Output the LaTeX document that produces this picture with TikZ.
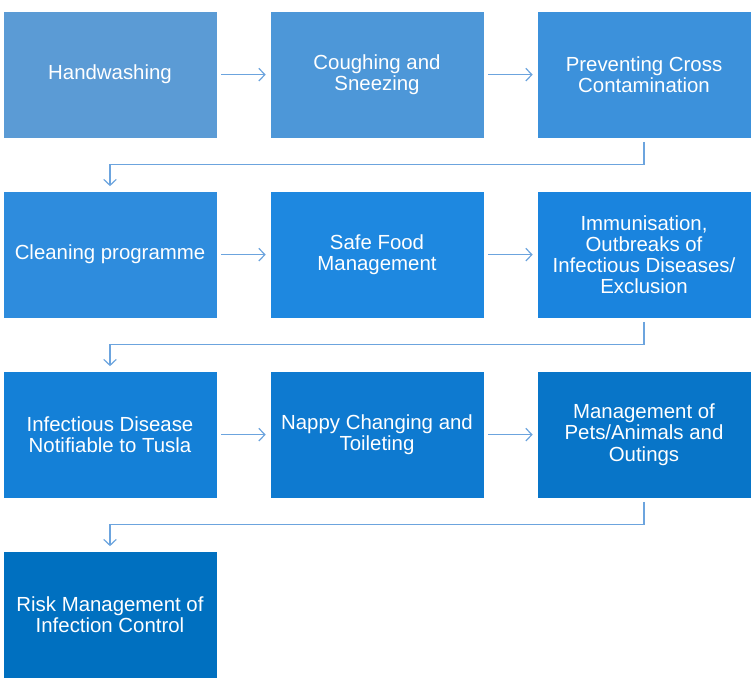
\documentclass[tikz,border=0pt]{standalone}
\usepackage{fontspec}
\setmainfont{Liberation Sans}
\usetikzlibrary{arrows.meta}
\definecolor{box1}{RGB}{91,155,213}
\definecolor{box2}{RGB}{77,151,216}
\definecolor{box3}{RGB}{60,145,219}
\definecolor{box4}{RGB}{46,140,221}
\definecolor{box5}{RGB}{30,136,224}
\definecolor{box6}{RGB}{26,132,222}
\definecolor{box7}{RGB}{20,128,215}
\definecolor{box8}{RGB}{14,122,208}
\definecolor{box9}{RGB}{8,117,200}
\definecolor{box10}{RGB}{0,112,192}
\definecolor{linkblue}{RGB}{108,164,222}
\begin{document}
\begin{tikzpicture}[
  block/.style={rectangle, draw=white, line width=0.5pt, text=white, align=center,
    minimum width=160.5pt, minimum height=95.25pt, inner sep=2pt,
    font=\fontsize{15.3}{15.8}\selectfont},
  link/.style={->, draw=linkblue, line width=0.9pt},
  >={Straight Barb[length=4.5pt, width=9.5pt]},
  node distance=200.25pt
]
\useasboundingbox (0,0) rectangle (566.25pt,-516pt);

\node[block, fill=box1] (hand) at (82.5pt,-56pt) {Handwashing};
\node[block, fill=box2, right of=hand] (cough) {Coughing and\\Sneezing};
\node[block, fill=box3, right of=cough] (cross) {Preventing Cross\\Contamination};
\node[block, fill=box4, below of=hand, node distance=135pt] (clean) {Cleaning programme};
\node[block, fill=box5, right of=clean] (food) {Safe Food\\Management};
\node[block, fill=box6, right of=food] (immun) {Immunisation,\\Outbreaks of\\Infectious Diseases/\\Exclusion};
\node[block, fill=box7, below of=clean, node distance=135pt] (notif) {Infectious Disease\\Notifiable to Tusla};
\node[block, fill=box8, right of=notif] (nappy) {Nappy Changing and\\Toileting};
\node[block, fill=box9, right of=nappy] (pets) {Management of\\Pets/Animals and\\Outings};
\node[block, fill=box10, below of=notif, node distance=135pt] (risk) {Risk Management of\\Infection Control};

\draw[link, shorten <=3pt, shorten >=3pt] (hand) -- (cough);
\draw[link, shorten <=3pt, shorten >=3pt] (cough) -- (cross);
\draw[link, shorten <=2.5pt, shorten >=3.5pt] (cross.south) -- ++(0,-19.5pt) -| (clean.north);
\draw[link, shorten <=3pt, shorten >=3pt] (clean) -- (food);
\draw[link, shorten <=3pt, shorten >=3pt] (food) -- (immun);
\draw[link, shorten <=2.5pt, shorten >=3.5pt] (immun.south) -- ++(0,-19.5pt) -| (notif.north);
\draw[link, shorten <=3pt, shorten >=3pt] (notif) -- (nappy);
\draw[link, shorten <=3pt, shorten >=3pt] (nappy) -- (pets);
\draw[link, shorten <=2.5pt, shorten >=3.5pt] (pets.south) -- ++(0,-19.5pt) -| (risk.north);
\end{tikzpicture}
\end{document}
